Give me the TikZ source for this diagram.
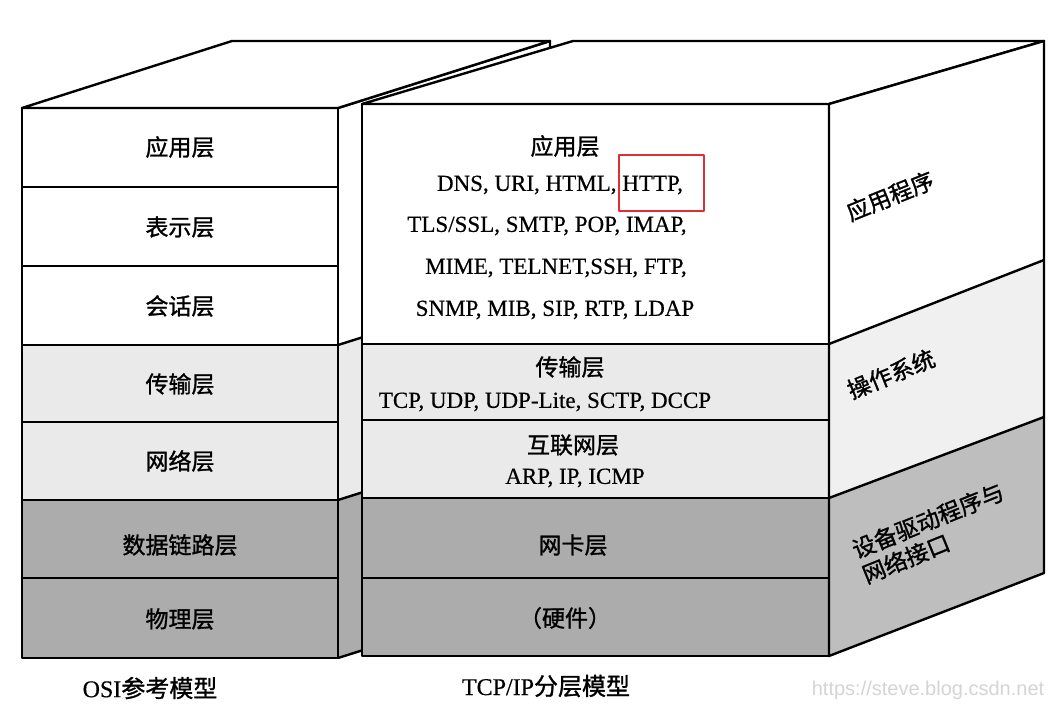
\documentclass[tikz,border=0pt]{standalone}
\usepackage{fontspec}
\setmainfont{Liberation Serif}[FakeBold=0.4]
\newfontfamily\cjk{Noto Sans CJK SC}[FakeBold=1.2]
\newfontfamily\markfont{Liberation Sans}

\definecolor{lightband}{RGB}{234,234,234}
\definecolor{darkband}{RGB}{172,172,172}
\definecolor{sidedark}{RGB}{190,190,190}
\definecolor{sidelight}{RGB}{240,240,240}
\definecolor{httpred}{RGB}{222,48,52}
\definecolor{markgray}{RGB}{212,212,212}

\begin{document}
\begin{tikzpicture}[x=1pt,y=-1pt,line width=2.4pt,line join=round,
    zh/.style={font=\cjk\fontsize{23}{26}\selectfont},
    en/.style={font=\fontsize{23}{26}\selectfont},
    caption/.style={font=\fontsize{24}{26}\selectfont},
    side/.style={font=\cjk\fontsize{23}{27}\selectfont,rotate=22,align=left}]
    \useasboundingbox (0,0) rectangle (1054,723);

    % Coordinates of the OSI box
    \coordinate (A_1) at (22,108);
    \coordinate (A_2) at (338,108);
    \coordinate (A_3) at (550,41);
    \coordinate (A_4) at (232,41);
    \coordinate (A_5) at (338,658);
    \coordinate (A_6) at (550,591);

    % Side face of the OSI box (mostly hidden)
    \fill[white] (A_2) -- (A_3) -- (550,278) -- (338,345) -- cycle;
    \fill[lightband] (338,345) -- (550,278) -- (550,433) -- (338,500) -- cycle;
    \fill[darkband] (338,500) -- (550,433) -- (A_6) -- (A_5) -- cycle;
    \draw (338,345) -- (550,278);
    \draw (338,500) -- (550,433);
    \draw (A_2) -- (A_3) -- (A_6) -- (A_5);

    % Front face of the OSI box
    \fill[white] (A_1) rectangle (338,345);
    \fill[lightband] (22,345) rectangle (338,500);
    \fill[darkband] (22,500) rectangle (A_5);
    \draw (A_1) rectangle (A_5);
    \draw (22,187) -- (338,187);
    \draw (22,266) -- (338,266);
    \draw (22,345) -- (338,345);
    \draw (22,422) -- (338,422);
    \draw (22,500) -- (338,500);
    \draw (22,578) -- (338,578);

    % Top face of the OSI box
    \filldraw[fill=white] (A_1) -- (A_4) -- (A_3) -- (A_2) -- cycle;

    % Coordinates of the TCP/IP box
    \coordinate (B_1) at (362,104);
    \coordinate (B_2) at (829,104);
    \coordinate (B_3) at (1044,41);
    \coordinate (B_4) at (573,41);
    \coordinate (B_5) at (829,656);
    \coordinate (B_6) at (1044,573);

    % Front face of the TCP/IP box
    \fill[white] (B_1) rectangle (829,344);
    \fill[lightband] (362,344) rectangle (829,498);
    \fill[darkband] (362,498) rectangle (B_5);
    \draw (B_1) rectangle (B_5);
    \draw (362,344) -- (829,344);
    \draw (362,420) -- (829,420);
    \draw (362,498) -- (829,498);
    \draw (362,578) -- (829,578);

    % Top face of the TCP/IP box
    \filldraw[fill=white] (B_1) -- (B_4) -- (B_3) -- (B_2) -- cycle;

    % Side face of the TCP/IP box
    \fill[white] (B_2) -- (B_3) -- (1044,260) -- (829,344) -- cycle;
    \fill[sidelight] (829,344) -- (1044,260) -- (1044,417) -- (829,498) -- cycle;
    \fill[sidedark] (829,498) -- (1044,417) -- (B_6) -- (B_5) -- cycle;
    \draw (829,344) -- (1044,260);
    \draw (829,498) -- (1044,417);
    \draw (B_2) -- (B_3) -- (B_6) -- (B_5) -- cycle;

    % Label the OSI layers
    \node[zh] (osi7) at (180,147) {应用层};
    \node[zh] (osi6) at (180,227) {表示层};
    \node[zh] (osi5) at (180,306) {会话层};
    \node[zh] (osi4) at (180,384) {传输层};
    \node[zh] (osi3) at (180,461) {网络层};
    \node[zh] (osi2) at (180,545) {数据链路层};
    \node[zh] (osi1) at (180,619) {物理层};

    % Label the TCP/IP layers
    \node[zh] (app) at (565,146) {应用层};
    \node[en] (app_1) at (560,185) {DNS, URI, HTML, HTTP,};
    \node[en] (app_2) at (547,226) {TLS/SSL, SMTP, POP, IMAP,};
    \node[en] (app_3) at (556,268) {MIME, TELNET,SSH, FTP,};
    \node[en] (app_4) at (555,310) {SNMP, MIB, SIP, RTP, LDAP};
    \node[zh] (trans) at (570,367) {传输层};
    \node[en] (trans_1) at (545,402) {TCP, UDP, UDP-Lite, SCTP, DCCP};
    \node[zh] (inet) at (573,445) {互联网层};
    \node[en] (inet_1) at (575,478) {ARP, IP, ICMP};
    \node[zh] (link) at (573,545) {网卡层};
    \node[zh] (phys) at (565,618) {（硬件）};

    % Mark HTTP
    \draw[httpred,line width=2pt] (619,155) rectangle (704,211);

    % Label the side face
    \node[side] (prog) at (890,196) {应用程序};
    \node[side] (os) at (891,374) {操作系统};
    \node[side] (drv) at (933,533) {设备驱动程序与\\网络接口};

    % Captions
    \node[caption] (osi) at (150,688) {OSI{\cjk 参考模型}};
    \node[caption] (tcpip) at (546,686) {TCP/IP{\cjk 分层模型}};
    \node[font=\markfont\fontsize{20}{22}\selectfont,text=markgray] (mark) at (928,690) {https://steve.blog.csdn.net};
\end{tikzpicture}
\end{document}
